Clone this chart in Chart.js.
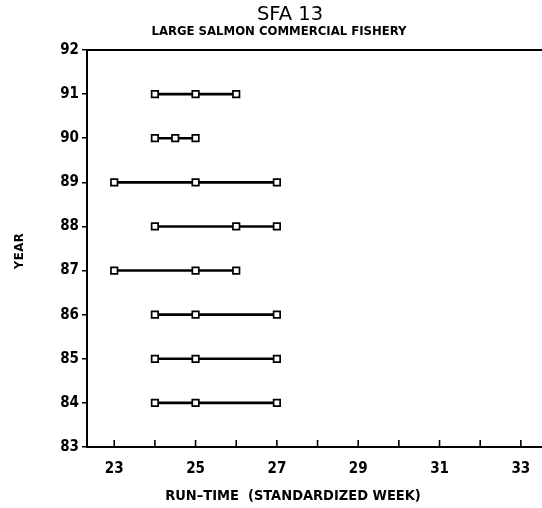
<!DOCTYPE html>
<html><head><meta charset="utf-8">
<script src="https://cdn.jsdelivr.net/npm/chart.js@4/dist/chart.umd.min.js"></script>
<style>html,body{margin:0;padding:0;background:#fff}#wrap{width:542px;height:508px}</style>
</head><body><div id="wrap"><canvas id="c" width="542" height="508"></canvas></div>
<script>
const years = [91, 90, 89, 88, 87, 86, 85, 84];
const weeks91 = [24, 25, 26];
const weeks90 = [24, 24.5, 25];
const weeks89 = [23, 25, 27];
const weeks88 = [24, 26, 27];
const weeks87 = [23, 25, 26];
const weeks86 = [24, 25, 27];
const weeks85 = [24, 25, 27];
const weeks84 = [24, 25, 27];
const xTickLabels = ['23', '25', '27', '29', '31', '33'];
const yTickLabels = ['83','84','85','86','87','88','89','90','91','92'];
const titleText = 'SFA 13';
const subtitleText = 'LARGE SALMON COMMERCIAL FISHERY';
const xTitleText = 'RUN\u2013TIME  (STANDARDIZED WEEK)';
const yTitleText = 'YEAR';

const weekRows = [weeks91, weeks90, weeks89, weeks88, weeks87, weeks86, weeks85, weeks84];
const FONT = '"DejaVu Sans Condensed", "Liberation Sans Narrow", "DejaVu Sans", sans-serif';
const FONT2 = '"DejaVu Sans", sans-serif';

const datasets = years.map((yr, i) => ({
  data: weekRows[i].map(w => ({x: w, y: yr})),
  borderColor: '#000', borderWidth: 2.6,
  pointStyle: 'rect', pointRadius: 4.6, pointBorderWidth: 1.7,
  pointBackgroundColor: '#fff', pointBorderColor: '#000',
  showLine: true, fill: false, tension: 0
}));

const deco = {
  id: 'deco',
  afterDraw(chart) {
    const {ctx, chartArea: a, scales} = chart;
    ctx.save();
    ctx.strokeStyle = '#000';
    ctx.lineWidth = 2;
    ctx.beginPath(); ctx.moveTo(a.left, a.top); ctx.lineTo(a.right, a.top); ctx.stroke();
    ctx.lineWidth = 1.6;
    for (let v = 23; v <= 33; v++) {
      const px = scales.x.getPixelForValue(v);
      ctx.beginPath(); ctx.moveTo(px, a.bottom + 1); ctx.lineTo(px, a.bottom - 7); ctx.stroke();
    }
    ctx.fillStyle = '#000';
    ctx.textAlign = 'center';
    ctx.textBaseline = 'alphabetic';
    ctx.font = '19.5px ' + FONT2;
    ctx.fillText(titleText, 290, 20);
    ctx.font = 'bold 13px ' + FONT;
    ctx.fillText(subtitleText, 279, 35);
    ctx.font = 'bold 14.5px ' + FONT;
    ctx.fillText(xTitleText, 293, 500);
    ctx.translate(23, 251);
    ctx.rotate(-Math.PI / 2);
    ctx.font = 'bold 13px ' + FONT;
    ctx.letterSpacing = '0.5px';
    ctx.fillText(yTitleText, 0, 0);
    ctx.restore();
  }
};

new Chart(document.getElementById('c'), {
  type: 'scatter',
  data: { datasets },
  plugins: [deco],
  options: {
    responsive: false, animation: false, devicePixelRatio: 1,
    layout: { autoPadding: false, padding: { top: 50, right: 0, left: 0, bottom: 0 } },
    plugins: { legend: { display: false }, tooltip: { enabled: false } },
    scales: {
      x: {
        type: 'linear', min: 22.33, max: 33.52,
        afterFit(s) { s.height = 61; s.paddingLeft = 0; s.paddingRight = 0; },
        border: { color: '#000', width: 2 },
        grid: { display: false, drawOnChartArea: false },
        ticks: {
          stepSize: 1, includeBounds: false, autoSkip: false, maxRotation: 0,
          color: '#000', padding: 5,
          font: { family: FONT, size: 15, weight: 'bold' },
          callback: v => xTickLabels.includes(String(v)) ? String(v) : ''
        }
      },
      y: {
        type: 'linear', min: 83, max: 92,
        afterFit(s) { s.width = 87; s.paddingTop = 0; s.paddingBottom = 0; },
        border: { color: '#000', width: 2 },
        grid: { drawOnChartArea: false, color: '#000', tickLength: 5, lineWidth: 1.5 },
        ticks: {
          stepSize: 1, color: '#000', padding: 3,
          font: { family: FONT, size: 15, weight: 'bold' },
          callback: v => yTickLabels.includes(String(v)) ? String(v) : ''
        }
      }
    }
  }
});
</script></body></html>
